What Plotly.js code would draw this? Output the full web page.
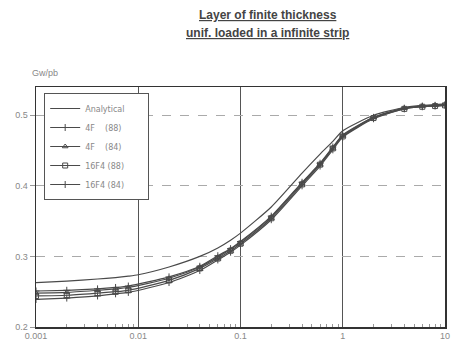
<!DOCTYPE html>
<html><head><meta charset="utf-8">
<script src="https://cdn.plot.ly/plotly-3.0.1.min.js"></script>
<style>html,body{margin:0;padding:0;background:#fff;}#c{width:451px;height:356px;}</style>
</head><body><div id="c"></div>
<script>
const xAnalytical = [0.001,0.002,0.004,0.006,0.008,0.01,0.02,0.04,0.06,0.08,0.1,0.2,0.4,0.6,0.8,1,2,4,6,8,10];
const yAnalytical = [0.263,0.265,0.268,0.270,0.272,0.274,0.285,0.300,0.312,0.323,0.333,0.370,0.418,0.445,0.463,0.478,0.500,0.511,0.514,0.515,0.516];
const xNum = [0.001,0.002,0.004,0.006,0.008,0.02,0.04,0.06,0.08,0.1,0.2,0.4,0.6,0.8,1,2,4,6,8,10];
const y4F88 = [0.251,0.252,0.254,0.256,0.258,0.271,0.286,0.301,0.311,0.321,0.357,0.405,0.432,0.455,0.472,0.497,0.510,0.513,0.514,0.515];
const y4F84 = [0.248,0.249,0.252,0.254,0.256,0.269,0.285,0.299,0.310,0.320,0.356,0.404,0.431,0.454,0.471,0.497,0.510,0.513,0.514,0.515];
const y16F88 = [0.244,0.245,0.248,0.250,0.252,0.266,0.283,0.297,0.308,0.318,0.354,0.402,0.430,0.453,0.470,0.496,0.509,0.512,0.513,0.514];
const y16F84 = [0.239,0.241,0.244,0.247,0.249,0.263,0.280,0.295,0.306,0.316,0.352,0.400,0.428,0.451,0.469,0.495,0.509,0.512,0.513,0.514];
const seriesNames = ["Analytical","4F    (88)","4F    (84)","16F4 (88)","16F4 (84)"];

const lc = '#4a4a4a';
const pad = '\u00a0\u00a0\u00a0\u00a0\u00a0\u00a0\u00a0';
function tr(x,y,name,sym){
  return {x:x,y:y,name:name+pad,type:'scatter',mode:'lines+markers',
    line:{color:lc,width:1.2,shape:'spline',smoothing:0.6},
    marker:{symbol:sym,size:5,color:lc,line:{color:lc,width:1}}};
}
const data = [
  tr(xAnalytical,yAnalytical,seriesNames[0],'line-ns-open'),
  tr(xNum,y4F88,seriesNames[1],'cross-thin-open'),
  tr(xNum,y4F84,seriesNames[2],'triangle-up-open'),
  tr(xNum,y16F88,seriesNames[3],'square-open'),
  tr(xNum,y16F84,seriesNames[4],'cross-thin-open')
];
data[0].mode = 'lines';

const layout = {
  width:451,height:356,
  margin:{l:36,r:6,t:87,b:29},
  paper_bgcolor:'#fff',plot_bgcolor:'#fff',
  font:{family:'Liberation Sans, Arial, sans-serif',color:'#888',size:9},
  showlegend:true,
  legend:{x:0.02,y:0.975,xanchor:'left',yanchor:'top',bgcolor:'#fff',
    bordercolor:'#555',borderwidth:1,font:{family:'DejaVu Sans',size:8,color:'#888'},
    itemwidth:30},
  xaxis:{type:'log',range:[-3,1],tickmode:'linear',tick0:0,dtick:1,
    showgrid:true,gridcolor:'#555',gridwidth:1,
    showline:true,linecolor:'#333',linewidth:1.5,mirror:true,
    ticks:'inside',ticklen:3,tickcolor:'#555',zeroline:false,tickfont:{size:9,color:'#888'},
    minor:{dtick:'D1',ticks:'inside',ticklen:3,tickcolor:'#999',showgrid:false}},
  yaxis:{range:[0.2,0.54],tickvals:[0.2,0.3,0.4,0.5],ticktext:['0.2','0.3','0.4','0.5'],
    showgrid:true,gridcolor:'#aaa',gridwidth:1,griddash:'dash',
    showline:true,linecolor:'#333',linewidth:1.5,mirror:true,
    ticks:'outside',ticklen:5,tickcolor:'#999',zeroline:false,tickfont:{size:9,color:'#888'}},
  annotations:[
    {text:'<b><u>Layer of finite thickness</u></b>',xref:'paper',yref:'paper',x:0.567,y:1.30,
      xanchor:'center',yanchor:'middle',showarrow:false,font:{size:12,color:'#444'}},
    {text:'<b><u>unif. loaded in a infinite strip</u></b>',xref:'paper',yref:'paper',x:0.567,y:1.225,
      xanchor:'center',yanchor:'middle',showarrow:false,font:{size:12,color:'#444'}},
    {text:'Gw/pb',xref:'paper',yref:'paper',x:-0.015,y:1.058,xanchor:'left',yanchor:'middle',
      showarrow:false,font:{size:9,color:'#888'}}
  ]
};
Plotly.newPlot('c',data,layout,{displayModeBar:false,staticPlot:true});
</script></body></html>
